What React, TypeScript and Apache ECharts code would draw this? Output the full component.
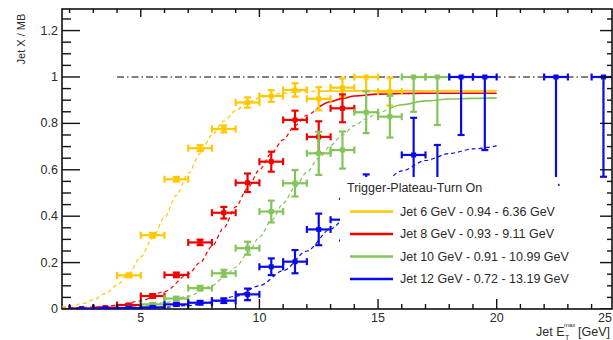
import React, { useEffect, useRef } from "react";
import * as echarts from "echarts";

// ---- axes ----
const X_MIN = 1.68;
const X_MAX = 24.86;
const Y_MIN = 0;
const Y_MAX = 1.293;

const xMajorTicks = [5, 10, 15, 20];
const xMinorTicks = [2, 3, 4, 6, 7, 8, 9, 11, 12, 13, 14, 16, 17, 18, 19, 21, 22, 23, 24];
const xOverflowLabel = "25";
const yMajorTicks = [0, 0.2, 0.4, 0.6, 0.8, 1.0, 1.2];
const yMajorLabels = ["0", "0.2", "0.4", "0.6", "0.8", "1", "1.2"];
const yMinorTicks = [0.05, 0.1, 0.15, 0.25, 0.3, 0.35, 0.45, 0.5, 0.55, 0.65, 0.7, 0.75, 0.85, 0.9, 0.95, 1.05, 1.1, 1.15, 1.25];

const yTitle = "Jet X / MB";
const xTitleMain = "Jet E";
const xTitleSup = "max";
const xTitleSub = "T";
const xTitleUnit = "[GeV]";

// ---- legend ----
const legendTitle = "Trigger-Plateau-Turn On";
const seriesNames = [
  "Jet 6 GeV - 0.94 - 6.36 GeV",
  "Jet 8 GeV - 0.93 - 9.11 GeV",
  "Jet 10 GeV - 0.91 - 10.99 GeV",
  "Jet 12 GeV - 0.72 - 13.19 GeV",
];
const seriesColors = ["#FFC800", "#F00000", "#84C45A", "#0A0AE6"];

// ---- reference line (plateau = 1) ----
const unityX = [4, 24.86];
const unityY = [1, 1];

// ---- data points (bin centre, ratio, lower error, upper error); bins are 1 GeV wide ----
const binHalfWidth = 0.5;

const jet6X = [4.5, 5.5, 6.5, 7.5, 8.5, 9.5, 10.5, 11.5, 12.5, 13.5, 14.5, 15.5];
const jet6Y = [0.145, 0.318, 0.559, 0.693, 0.776, 0.89, 0.918, 0.944, 0.906, 0.954, 1.0, 0.937];
const jet6Lo = [0.008, 0.01, 0.01, 0.013, 0.015, 0.022, 0.025, 0.029, 0.05, 0.04, 0.06, 0.06];
const jet6Hi = [0.008, 0.01, 0.01, 0.013, 0.015, 0.022, 0.025, 0.029, 0.05, 0.04, 0.0, 0.06];

const jet8X = [2.5, 3.5, 4.5, 5.5, 6.5, 7.5, 8.5, 9.5, 10.5, 11.5, 12.5, 13.5];
const jet8Y = [0.002, 0.006, 0.017, 0.056, 0.147, 0.287, 0.415, 0.544, 0.635, 0.815, 0.742, 0.865];
const jet8Lo = [0.002, 0.003, 0.005, 0.008, 0.01, 0.012, 0.025, 0.04, 0.043, 0.04, 0.07, 0.06];
const jet8Hi = [0.002, 0.003, 0.005, 0.008, 0.01, 0.012, 0.025, 0.04, 0.043, 0.04, 0.067, 0.06];

const jet10X = [4.5, 5.5, 6.5, 7.5, 8.5, 9.5, 10.5, 11.5, 12.5, 13.5, 14.5, 15.5, 16.5, 17.5];
const jet10Y = [0.004, 0.02, 0.045, 0.09, 0.154, 0.262, 0.42, 0.542, 0.671, 0.685, 0.848, 0.829, 1.0, 1.0];
const jet10Lo = [0.003, 0.006, 0.008, 0.01, 0.015, 0.028, 0.047, 0.057, 0.093, 0.08, 0.09, 0.09, 0.15, 0.207];
const jet10Hi = [0.003, 0.006, 0.008, 0.01, 0.015, 0.028, 0.047, 0.057, 0.093, 0.08, 0.09, 0.09, 0.0, 0.0];

const jet12X = [2.5, 3.5, 4.5, 5.5, 6.5, 7.5, 8.5, 9.5, 10.5, 11.5, 12.5, 13.5, 14.5, 15.5, 16.5, 17.5, 18.5, 19.5, 22.5, 24.5];
const jet12Y = [0.001, 0.002, 0.004, 0.007, 0.02, 0.027, 0.036, 0.063, 0.182, 0.204, 0.343, 0.385, 0.48, 0.45, 0.664, 0.55, 1.0, 1.0, 1.0, 1.0];
const jet12Lo = [0.001, 0.002, 0.003, 0.004, 0.006, 0.008, 0.01, 0.025, 0.036, 0.05, 0.068, 0.09, 0.1, 0.1, 0.16, 0.157, 0.25, 0.315, 0.465, 0.43];
const jet12Hi = [0.001, 0.002, 0.003, 0.004, 0.006, 0.008, 0.01, 0.025, 0.036, 0.05, 0.068, 0.09, 0.1, 0.1, 0.16, 0.157, 0.0, 0.0, 0.0, 0.0];

// ---- turn-on fit curves (dashed part, then solid part) ----
const fit6DashX = [1.68, 2, 2.5, 3, 3.5, 4, 4.5, 5, 5.5, 6, 6.5, 7, 7.5, 8, 8.5, 9, 9.5, 10, 10.5, 11, 11.5, 12, 12.5];
const fit6DashY = [0.009, 0.012, 0.022, 0.039, 0.066, 0.103, 0.155, 0.225, 0.305, 0.395, 0.49, 0.585, 0.67, 0.75, 0.81, 0.855, 0.89, 0.91, 0.922, 0.93, 0.935, 0.938, 0.939];
const fit6SolidX = [12.5, 14, 20];
const fit6SolidY = [0.939, 0.94, 0.94];

const fit8DashX = [1.68, 3, 4, 5, 6, 7, 7.5, 8, 8.5, 9, 9.5, 10, 10.5, 11, 11.5, 12, 12.5];
const fit8DashY = [0.003, 0.008, 0.016, 0.035, 0.075, 0.15, 0.2, 0.27, 0.35, 0.44, 0.52, 0.6, 0.67, 0.73, 0.79, 0.835, 0.87];
const fit8SolidX = [12.5, 13, 13.5, 14, 15, 16, 17, 20];
const fit8SolidY = [0.87, 0.893, 0.908, 0.918, 0.926, 0.929, 0.93, 0.93];

const fit10DashX = [1.68, 3, 4, 5, 6, 7, 8, 8.5, 9, 9.5, 10, 10.5, 11, 11.5, 12, 12.5, 13, 13.5, 14, 14.5, 15, 15.5];
const fit10DashY = [0.001, 0.003, 0.006, 0.013, 0.027, 0.055, 0.1, 0.135, 0.18, 0.24, 0.31, 0.38, 0.455, 0.525, 0.59, 0.65, 0.705, 0.75, 0.79, 0.82, 0.845, 0.865];
const fit10SolidX = [15.5, 16, 17, 18, 19, 20];
const fit10SolidY = [0.865, 0.88, 0.897, 0.905, 0.908, 0.91];

const fit12DashX = [1.68, 4, 5, 6, 7, 8, 9, 10, 11, 12, 13, 14, 15, 16, 17, 18, 19, 20];
const fit12DashY = [0.0005, 0.001, 0.003, 0.008, 0.015, 0.03, 0.055, 0.1, 0.165, 0.25, 0.345, 0.44, 0.525, 0.595, 0.64, 0.67, 0.69, 0.703];

const FONT = "Liberation Sans, Arial, Helvetica, sans-serif";
const TEXT = "#2a2a2a";

const GRID = { left: 62, right: 1, top: 9, bottom: 31 };
const W = 613;
const H = 340;

const zip = (xs: number[], ys: number[]) => xs.map((x, i) => [x, ys[i]]);
const errRows = (xs: number[], ys: number[], lo: number[], hi: number[]) =>
  xs.map((x, i) => [x, ys[i], lo[i], hi[i]]);

function makeRenderer(color: string) {
  return (_params: any, api: any) => {
    const x = api.value(0);
    const y = api.value(1);
    const lo = api.value(2);
    const hi = api.value(3);
    const l = api.coord([x - binHalfWidth, y]);
    const r = api.coord([x + binHalfWidth, y]);
    const b = api.coord([x, y - lo]);
    const t = api.coord([x, y + hi]);
    const c = api.coord([x, y]);
    const cap = 3.5;
    const ln = (x1: number, y1: number, x2: number, y2: number) => ({
      type: "line",
      shape: { x1, y1, x2, y2 },
      style: { stroke: color, lineWidth: 2.2 },
    });
    return {
      type: "group",
      children: [
        ln(l[0], l[1], r[0], r[1]),
        ln(l[0], l[1] - cap, l[0], l[1] + cap),
        ln(r[0], r[1] - cap, r[0], r[1] + cap),
        ln(b[0], b[1], t[0], t[1]),
        ln(t[0] - cap, t[1], t[0] + cap, t[1]),
        ln(b[0] - cap, b[1], b[0] + cap, b[1]),
        { type: "rect", shape: { x: c[0] - 2.5, y: c[1] - 2.5, width: 5, height: 5 }, style: { fill: color } },
      ],
    };
  };
}

// One tick per row: [x, y, dxPixels, dyPixels]; the anchor is placed through the axes' scales.
function tickRenderer(_params: any, api: any) {
  const p = api.coord([api.value(0), api.value(1)]);
  const dx = api.value(2);
  const dy = api.value(3);
  return {
    type: "polyline",
    shape: { points: [[p[0], p[1]], [p[0] + dx, p[1] + dy]] },
    style: { stroke: "#111", lineWidth: 1.4, fill: "none" },
  };
}

export default function App() {
  const ref = useRef<HTMLDivElement>(null);

  useEffect(() => {
    if (!ref.current) return;
    const chart = echarts.init(ref.current, undefined, { renderer: "svg" });

    const tickRows: number[][] = [
      ...xMajorTicks.map((v) => [v, Y_MIN, 0, -10]),
      ...xMinorTicks.map((v) => [v, Y_MIN, 0, -5]),
      ...xMajorTicks.map((v) => [v, Y_MAX, 0, 8]),
      ...xMinorTicks.map((v) => [v, Y_MAX, 0, 4]),
      ...yMajorTicks.map((v) => [X_MIN, v, 18, 0]),
      ...yMinorTicks.map((v) => [X_MIN, v, 9, 0]),
      ...yMajorTicks.map((v) => [X_MAX, v, -12, 0]),
      ...yMinorTicks.map((v) => [X_MAX, v, -5, 0]),
    ];

    const fitLine = (xs: number[], ys: number[], color: string, dashed: boolean) => ({
      type: "line",
      data: zip(xs, ys),
      smooth: 0.3,
      smoothMonotone: "x",
      showSymbol: false,
      symbol: "none",
      silent: true,
      clip: true,
      lineStyle: { color, width: dashed ? 1.2 : 1.6, type: dashed ? [4, 3] : "solid" },
      z: 3,
    });

    const errSeries = (rows: number[][], color: string) => ({
      type: "custom",
      data: rows,
      encode: { x: 0, y: 1 },
      renderItem: makeRenderer(color),
      clip: true,
      silent: true,
      z: 4,
    });

    const legendTop = 188;
    const legendStep = 22.5;

    const option: any = {
      animation: false,
      grid: {
        ...GRID,
        show: true,
        borderColor: "#000",
        borderWidth: 1.5,
        backgroundColor: "transparent",
      },
      xAxis: {
        type: "value",
        min: X_MIN,
        max: X_MAX,
        splitLine: { show: false },
        axisLine: { show: false },
        axisTick: { show: false },
        axisLabel: {
          customValues: xMajorTicks,
          formatter: (v: number) => String(v),
          margin: 2,
          fontSize: 12.5,
          color: TEXT,
          fontFamily: FONT,
        },
      },
      yAxis: {
        type: "value",
        min: Y_MIN,
        max: Y_MAX,
        splitLine: { show: false },
        axisLine: { show: false },
        axisTick: { show: false },
        axisLabel: {
          customValues: yMajorTicks,
          formatter: (v: number) => {
            let best = 0;
            yMajorTicks.forEach((t, i) => {
              if (Math.abs(t - v) < Math.abs(yMajorTicks[best] - v)) best = i;
            });
            return yMajorLabels[best];
          },
          margin: 4,
          fontSize: 12.5,
          color: TEXT,
          fontFamily: FONT,
        },
      },
      series: [
        {
          type: "line",
          data: zip(unityX, unityY),
          showSymbol: false,
          symbol: "none",
          silent: true,
          clip: true,
          lineStyle: { color: "#000", width: 1.2, type: [7, 3, 1.5, 3] },
          z: 2,
        },
        fitLine(fit6DashX, fit6DashY, seriesColors[0], true),
        fitLine(fit6SolidX, fit6SolidY, seriesColors[0], false),
        fitLine(fit8DashX, fit8DashY, seriesColors[1], true),
        fitLine(fit8SolidX, fit8SolidY, seriesColors[1], false),
        fitLine(fit10DashX, fit10DashY, seriesColors[2], true),
        fitLine(fit10SolidX, fit10SolidY, seriesColors[2], false),
        fitLine(fit12DashX, fit12DashY, seriesColors[3], true),
        errSeries(errRows(jet6X, jet6Y, jet6Lo, jet6Hi), seriesColors[0]),
        errSeries(errRows(jet8X, jet8Y, jet8Lo, jet8Hi), seriesColors[1]),
        errSeries(errRows(jet10X, jet10Y, jet10Lo, jet10Hi), seriesColors[2]),
        errSeries(errRows(jet12X, jet12Y, jet12Lo, jet12Hi), seriesColors[3]),
        {
          type: "custom",
          data: tickRows,
          encode: { x: 0, y: 1 },
          renderItem: tickRenderer,
          clip: true,
          silent: true,
          z: 5,
        },
      ],
      graphic: [
        {
          type: "rect",
          z: 20,
          shape: { x: 340, y: 177, width: 218, height: 116 },
          style: { fill: "#fff" },
        },
        {
          type: "text",
          z: 21,
          x: 347,
          y: legendTop,
          style: {
            text: legendTitle,
            font: `12.5px ${FONT}`,
            fill: TEXT,
            textAlign: "left",
            textVerticalAlign: "middle",
          },
        },
        ...seriesNames.flatMap((name, i) => [
          {
            type: "line",
            z: 21,
            shape: { x1: 350, y1: legendTop + 23.5 + i * legendStep, x2: 393, y2: legendTop + 23.5 + i * legendStep },
            style: { stroke: seriesColors[i], lineWidth: 2.5 },
          },
          {
            type: "text",
            z: 21,
            x: 400,
            y: legendTop + 23.5 + i * legendStep,
            style: {
              text: name,
              font: `12.5px ${FONT}`,
              fill: TEXT,
              textAlign: "left",
              textVerticalAlign: "middle",
            },
          },
        ]),
        {
          type: "text",
          z: 21,
          x: 21,
          y: 39,
          rotation: Math.PI / 2,
          style: {
            text: yTitle,
            font: `11px ${FONT}`,
            fill: TEXT,
            textAlign: "center",
            textVerticalAlign: "middle",
          },
        },
        {
          type: "text",
          z: 21,
          x: 612,
          y: 318,
          style: {
            text: xOverflowLabel,
            font: `12.5px ${FONT}`,
            fill: TEXT,
            textAlign: "right",
            textVerticalAlign: "middle",
          },
        },
        {
          type: "text",
          z: 21,
          x: 536,
          y: 332,
          style: { text: xTitleMain, font: `12.5px ${FONT}`, fill: TEXT, textAlign: "left", textVerticalAlign: "middle" },
        },
        {
          type: "text",
          z: 21,
          x: 564,
          y: 325,
          style: { text: xTitleSup, font: `6px ${FONT}`, fill: TEXT, textAlign: "left", textVerticalAlign: "middle" },
        },
        {
          type: "text",
          z: 21,
          x: 565,
          y: 337,
          style: { text: xTitleSub, font: `7px ${FONT}`, fill: TEXT, textAlign: "left", textVerticalAlign: "middle" },
        },
        {
          type: "text",
          z: 21,
          x: 578,
          y: 332,
          style: { text: xTitleUnit, font: `12.5px ${FONT}`, fill: TEXT, textAlign: "left", textVerticalAlign: "middle" },
        },
      ],
    };

    chart.setOption(option);
    return () => chart.dispose();
  }, []);

  return (
    <div
      ref={ref}
      style={{ position: "fixed", left: 0, top: 0, width: W, height: H, background: "#fff" }}
    />
  );
}
